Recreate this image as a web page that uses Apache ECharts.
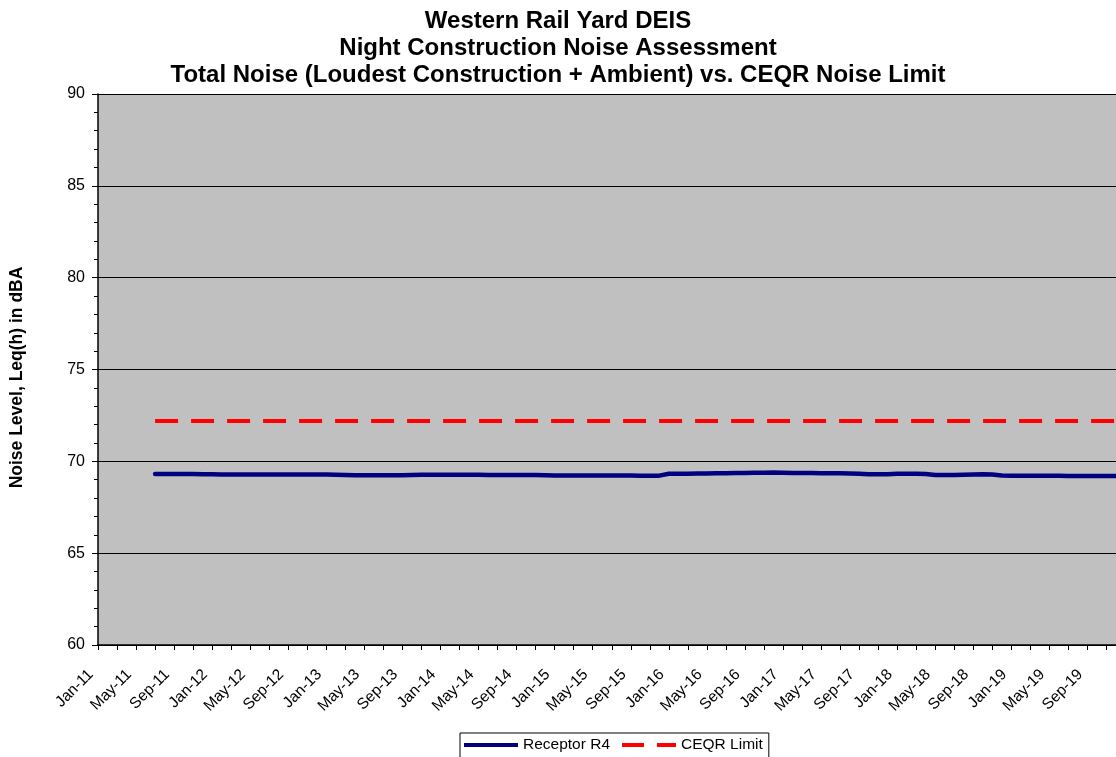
<!DOCTYPE html>
<html>
<head>
<meta charset="utf-8">
<script src="https://cdn.jsdelivr.net/npm/echarts@6/dist/echarts.min.js"></script>
<style>
html,body{margin:0;padding:0;background:#fff;}
#chart{width:1116px;height:757px;}
</style>
</head>
<body>
<div id="chart"></div>
<script>
// ---- data ----
const titleLines = [
  'Western Rail Yard DEIS',
  'Night Construction Noise Assessment',
  'Total Noise (Loudest Construction + Ambient) vs. CEQR Noise Limit'
];
const yAxisName = 'Noise Level, Leq(h) in dBA';
const monthNames = ['Jan','Feb','Mar','Apr','May','Jun','Jul','Aug','Sep','Oct','Nov','Dec'];
const yearLabels = ['11','12','13','14','15','16','17','18','19'];
const yTicks = [60, 65, 70, 75, 80, 85, 90];

// Receptor R4, monthly from Jan-11 (no data before Jul-11)
const receptorR4 = [
  null, null, null, null, null, null,
  69.31, 69.31, 69.31, 69.31, 69.31, 69.30,
  69.29, 69.28, 69.28, 69.28, 69.28, 69.28, 69.28, 69.28, 69.28, 69.28, 69.28, 69.28, 69.28, 69.27,
  69.25, 69.24, 69.24, 69.24, 69.24, 69.24, 69.24, 69.25,
  69.27, 69.27, 69.27, 69.27, 69.27, 69.27, 69.27, 69.26, 69.26, 69.26, 69.26, 69.26, 69.25,
  69.24, 69.23, 69.23, 69.23, 69.23, 69.23, 69.23, 69.23, 69.23, 69.23, 69.22, 69.21, 69.22,
  69.32, 69.33, 69.33, 69.34, 69.34, 69.35, 69.35, 69.36, 69.37,
  69.38, 69.38, 69.39, 69.38, 69.37, 69.36, 69.36, 69.35, 69.35, 69.35, 69.34, 69.33,
  69.30, 69.29, 69.30, 69.32,
  69.33, 69.33, 69.31,
  69.26, 69.26, 69.26, 69.27, 69.28,
  69.29, 69.28,
  69.23, 69.22, 69.22, 69.21, 69.21, 69.21, 69.21, 69.20, 69.20, 69.20, 69.20, 69.20, 69.20
];
const ceqrLimit = [['Jul-11', 72.2], ['Dec-19', 72.2]];

// ---- build ----
const months = [];
yearLabels.forEach(y => monthNames.forEach(m => months.push(m + '-' + y)));

const FONT = 'Liberation Sans, Arial, sans-serif';
const chart = echarts.init(document.getElementById('chart'), null, {renderer: 'canvas'});
chart.setOption({
  animation: false,
  backgroundColor: '#ffffff',
  textStyle: {fontFamily: FONT, color: '#000'},
  title: {
    text: titleLines.join('\n'),
    left: 'center',
    top: 3,
    textStyle: {fontFamily: FONT, fontSize: 24, fontWeight: 'bold', color: '#000', lineHeight: 27}
  },
  legend: {
    left: 460,
    top: 733,
    borderColor: '#000',
    borderWidth: 1,
    padding: [4, 6, 12, 4],
    itemGap: 12,
    itemWidth: 54,
    itemHeight: 4,
    textStyle: {fontFamily: FONT, fontSize: 15.5, color: '#000'},
    data: [
      {name: 'Receptor R4', icon: 'path://M0,0H54V4H0Z'},
      {name: 'CEQR Limit', icon: 'path://M0,0H22V4H0Z M35,0H54V4H35Z'}
    ]
  },
  grid: {
    left: 96, top: 94, right: -4, bottom: 112,
    show: true, backgroundColor: '#C0C0C0', borderWidth: 0
  },
  xAxis: {
    type: 'category',
    data: months,
    boundaryGap: false,
    axisLine: {lineStyle: {color: '#000', width: 1.5}},
    axisTick: {show: true, interval: 1, length: 5, lineStyle: {color: '#000'}},
    axisLabel: {interval: 3, rotate: 45, margin: 20, padding: [0, 10, 0, 0], fontFamily: FONT, fontSize: 15.5, color: '#000'},
    splitLine: {show: false}
  },
  yAxis: {
    type: 'value',
    min: yTicks[0],
    max: yTicks[yTicks.length - 1],
    interval: 5,
    name: yAxisName,
    nameLocation: 'middle',
    nameGap: 72,
    nameRotate: 90,
    nameTextStyle: {fontFamily: FONT, fontSize: 17.5, fontWeight: 'bold', color: '#000', padding: [0, 16, 0, 0]},
    axisLine: {show: true, lineStyle: {color: '#000', width: 1.5}},
    axisTick: {show: true, length: 6, lineStyle: {color: '#000'}},
    minorTick: {show: true, splitNumber: 5, length: 4, lineStyle: {color: '#000'}},
    axisLabel: {margin: 13, fontFamily: FONT, fontSize: 16, color: '#000'},
    splitLine: {show: true, lineStyle: {color: '#000', width: 1}}
  },
  series: [
    {
      name: 'Receptor R4',
      type: 'line',
      data: receptorR4,
      symbol: 'none',
      connectNulls: false,
      lineStyle: {color: '#000080', width: 4.5, cap: 'round', join: 'round'},
      itemStyle: {color: '#000080'},
      z: 3
    },
    {
      name: 'CEQR Limit',
      type: 'line',
      data: ceqrLimit,
      symbol: 'none',
      lineStyle: {color: '#FF0000', width: 4, type: [23, 13]},
      itemStyle: {color: '#FF0000'},
      z: 2
    }
  ]
});
</script>
</body>
</html>
